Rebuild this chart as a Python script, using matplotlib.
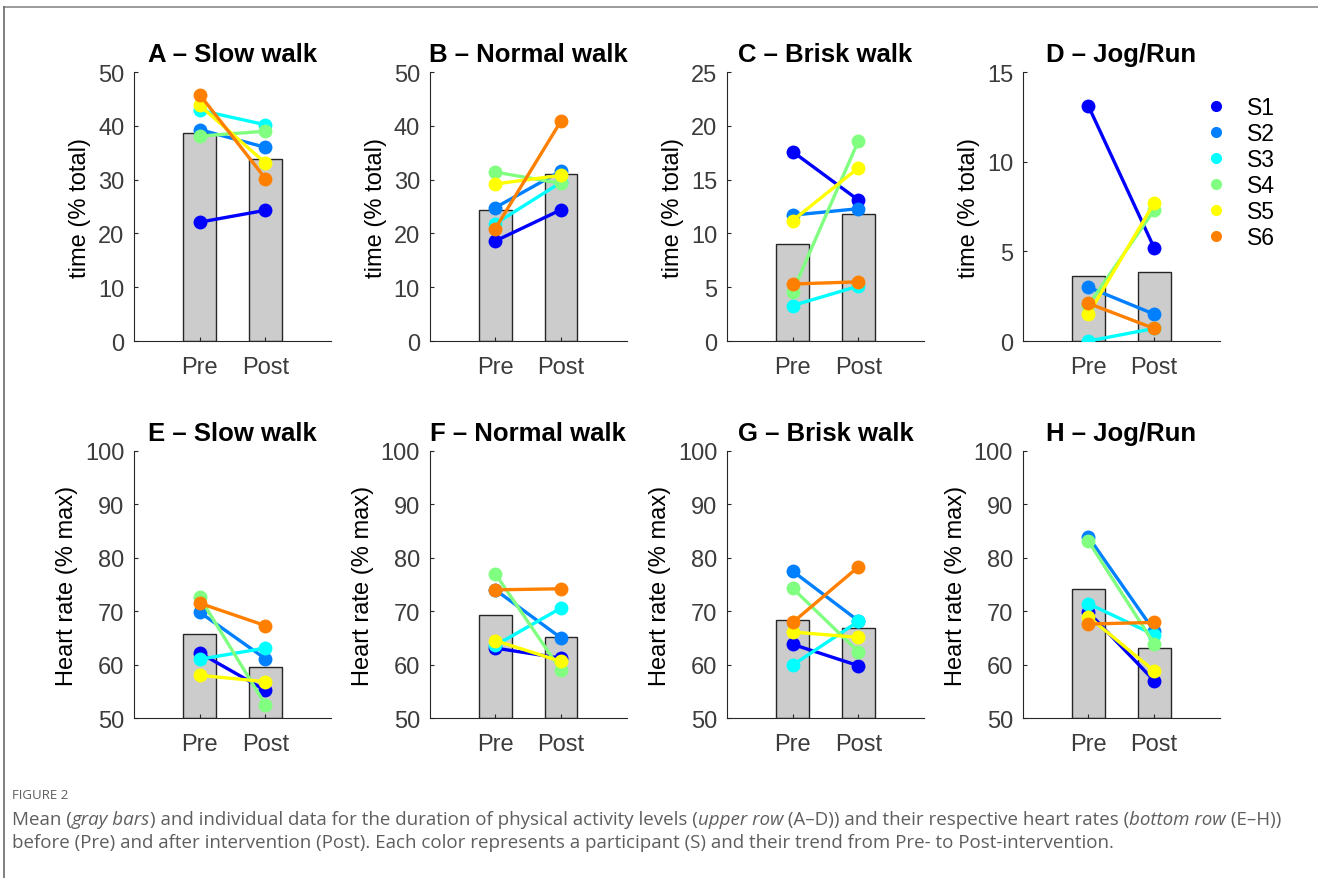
import matplotlib.pyplot as plt
from matplotlib.lines import Line2D

# participant colours (jet-like)
subjects = ['S1', 'S2', 'S3', 'S4', 'S5', 'S6']
colors = ['#0000ff', '#0080ff', '#00ffff', '#80ff80', '#ffff00', '#ff8000']
phases = ['Pre', 'Post']

titles = ['A – Slow walk', 'B – Normal walk', 'C – Brisk walk', 'D – Jog/Run',
          'E – Slow walk', 'F – Normal walk', 'G – Brisk walk', 'H – Jog/Run']

# mean bars (Pre, Post)
mean_A = [38.7, 33.8]
mean_B = [24.4, 31.1]
mean_C = [9.0, 11.8]
mean_D = [3.6, 3.85]
mean_E = [65.8, 59.5]
mean_F = [69.3, 65.1]
mean_G = [68.3, 66.8]
mean_H = [74.25, 63.1]

# individual data, one (Pre, Post) pair per subject S1..S6
ind_A = [[22.1, 24.3], [39.3, 36.0], [42.9, 40.2], [38.1, 39.0], [43.8, 33.1], [45.8, 30.2]]
ind_B = [[18.6, 24.4], [24.8, 31.6], [21.8, 29.5], [31.4, 29.3], [29.2, 30.8], [20.9, 40.9]]
ind_C = [[17.6, 13.1], [11.7, 12.3], [3.3, 5.1], [4.6, 18.6], [11.2, 16.1], [5.3, 5.5]]
ind_D = [[13.1, 5.2], [3.0, 1.5], [0.0, 0.7], [2.0, 7.3], [1.5, 7.7], [2.1, 0.7]]
ind_E = [[62.2, 55.2], [69.8, 61.1], [61.0, 63.1], [72.6, 52.5], [58.0, 56.8], [71.5, 67.3]]
ind_F = [[63.1, 61.2], [74.0, 65.0], [63.6, 70.6], [77.0, 58.9], [64.5, 60.6], [74.0, 74.2]]
ind_G = [[63.8, 59.8], [77.5, 68.2], [59.9, 68.1], [74.3, 62.4], [66.1, 65.1], [67.9, 78.3]]
ind_H = [[69.8, 57.0], [83.9, 66.3], [71.4, 65.6], [83.1, 63.9], [69.0, 58.8], [67.6, 67.9]]

means = [mean_A, mean_B, mean_C, mean_D, mean_E, mean_F, mean_G, mean_H]
indiv = [ind_A, ind_B, ind_C, ind_D, ind_E, ind_F, ind_G, ind_H]
ylims = [(0, 50), (0, 50), (0, 25), (0, 15), (50, 100), (50, 100), (50, 100), (50, 100)]
yticks = [range(0, 51, 10), range(0, 51, 10), range(0, 26, 5), range(0, 16, 5)] + [range(50, 101, 10)] * 4
ylabels = ['time (% total)'] * 4 + ['Heart rate (% max)'] * 4

plt.rcParams['font.family'] = ['Liberation Sans', 'DejaVu Sans']

fig = plt.figure(figsize=(13.18, 8.79), dpi=100)

lefts = [0.1017, 0.326, 0.5516, 0.776]
rows = [(0.6109, 0.306), (0.182, 0.3038)]
tick_gray = '#3c3c3c'

for i in range(8):
    r, c = divmod(i, 4)
    ax = fig.add_axes([lefts[c], rows[r][0], 0.1495, rows[r][1]])
    x = [1, 2]
    base = ylims[i][0]
    ax.bar(x, [m - base for m in means[i]], bottom=base, width=0.5, color='#cccccc',
           edgecolor='#262626', linewidth=1.0, zorder=1)
    for s in range(6):
        ax.plot(x, indiv[i][s], '-o', color=colors[s], lw=2.4, markersize=10,
                markeredgewidth=0, label=subjects[s], zorder=2 + s)
    ax.set_xlim(0, 3)
    ax.set_ylim(*ylims[i])
    ax.set_yticks(list(yticks[i]))
    ax.set_xticks(x)
    ax.set_xticklabels(phases)
    ax.spines['top'].set_visible(False)
    ax.spines['right'].set_visible(False)
    for sp in ['left', 'bottom']:
        ax.spines[sp].set_color('#262626')
        ax.spines[sp].set_linewidth(0.8)
    ax.tick_params(direction='in', length=3, width=0.8, color='#262626',
                   labelsize=17, labelcolor=tick_gray)
    ax.tick_params(axis='y', pad=7)
    ax.tick_params(axis='x', pad=11)
    ax.set_ylabel(ylabels[i], fontsize=17, color='black', labelpad=5)
    ax.set_title(titles[i], fontsize=18.5, fontweight='bold', pad=8)
    if i == 3:
        ax.legend(loc='upper left', bbox_to_anchor=(0.9, 0.945), frameon=False,
                  fontsize=16.5, handlelength=0.6, handletextpad=1.05, labelspacing=0.13,
                  borderaxespad=0)
        leg = ax.get_legend()
        for h in leg.legend_handles:
            h.set_linestyle('')
            h.set_markersize(8)

# thin frame on top and left of the figure
fig.add_artist(Line2D([4 / 1318, 1], [1 - 8 / 879, 1 - 8 / 879], color='#8a8a8a', lw=1.2))
fig.add_artist(Line2D([4 / 1318, 4 / 1318], [0, 1 - 8 / 879], color='#6a6a6a', lw=1.2))

# caption
cap_color = '#5e5e5e'
fig.text(12 / 1318, 1 - 796 / 879, 'FIGURE 2', fontsize=9.5, color=cap_color,
         family='Open Sans', va='center')

line1 = [('Mean (', 'normal'), ('gray bars', 'italic'),
         (') and individual data for the duration of physical activity levels (', 'normal'),
         ('upper row', 'italic'), (' (A–D)) and their respective heart rates (', 'normal'),
         ('bottom row', 'italic'), (' (E–H))', 'normal')]
line2 = [('before (Pre) and after intervention (Post). Each color represents a participant (S) '
          'and their trend from Pre- to Post-intervention.', 'normal')]

fig.canvas.draw()
renderer = fig.canvas.get_renderer()
for segs, ypix in [(line1, 820), (line2, 843)]:
    xpix = 12
    for txt, style in segs:
        t = fig.text(xpix / 1318, 1 - ypix / 879, txt, fontsize=13.5, color=cap_color,
                     family='Open Sans', style=style, va='center')
        bb = t.get_window_extent(renderer=renderer)
        xpix += bb.width

fig.savefig('out.png', dpi=100)
